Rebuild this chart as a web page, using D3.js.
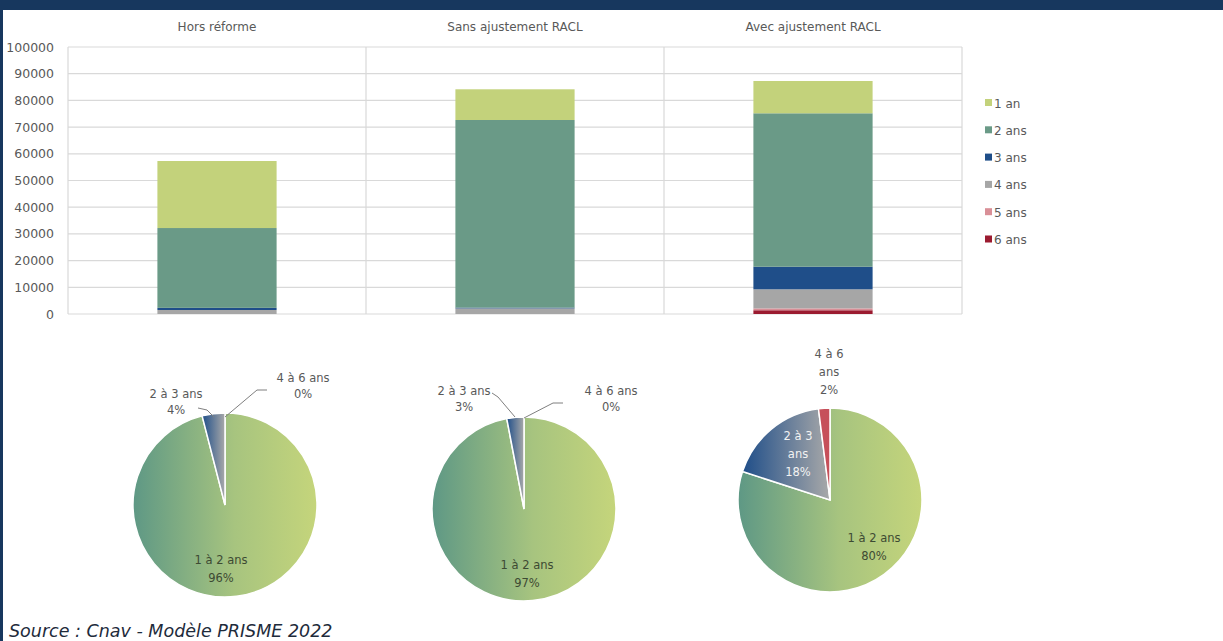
<!DOCTYPE html>
<html>
<head>
<meta charset="utf-8">
<script src="https://cdn.jsdelivr.net/npm/d3@7"></script>
<style>
  body { margin: 0; background: #fff; }
  text { font-family: "DejaVu Sans", sans-serif; }
</style>
</head>
<body>
<script>
// data
var scenarios = ["Hors réforme", "Sans ajustement RACL", "Avec ajustement RACL"]
var durations = ["1 an", "2 ans", "3 ans", "4 ans", "5 ans", "6 ans"]
var an1  = [25100, 11500, 12100]
var ans2 = [29900, 70260, 57470]
var ans3 = [800, 300, 8450]
var ans4 = [1500, 2100, 7150]
var ans5 = [0, 0, 700]
var ans6 = [0, 0, 1400]
var yTicks = [0, 10000, 20000, 30000, 40000, 50000, 60000, 70000, 80000, 90000, 100000]

var pieGroups = ["1 à 2 ans", "2 à 3 ans", "4 à 6 ans"]
var pieShares = [[96, 4, 0], [97, 3, 0], [80, 18, 2]]

var width = 1223
var height = 641

var colors = ["#c3d27b", "#6a9a87", "#1f4e89", "#a6a6a6", "#d98f97", "#9b1b30"]

var svg = d3.select("body")
    .append("svg")
        .attr("width", width)
        .attr("height", height)

// frame
svg.append("rect").attr("x", 0).attr("y", 0).attr("width", width).attr("height", 10).attr("fill", "#17375e")
svg.append("rect").attr("x", 0).attr("y", 0).attr("width", 3).attr("height", height).attr("fill", "#17375e")

var defs = svg.append("defs")
var g1 = defs.append("linearGradient").attr("id", "gGreen")
g1.append("stop").attr("offset", "0%").attr("stop-color", "#5e9885")
g1.append("stop").attr("offset", "55%").attr("stop-color", "#a7c47f")
g1.append("stop").attr("offset", "100%").attr("stop-color", "#c5d57b")
var g2 = defs.append("linearGradient").attr("id", "gBlue")
g2.append("stop").attr("offset", "0%").attr("stop-color", "#1f4e89")
g2.append("stop").attr("offset", "100%").attr("stop-color", "#a9a9a9")

// stacked bars
var rows = scenarios.map(function(s, i) {
    return {scen: s, "1 an": an1[i], "2 ans": ans2[i], "3 ans": ans3[i], "4 ans": ans4[i], "5 ans": ans5[i], "6 ans": ans6[i]}
})

var x = d3.scaleBand().domain(scenarios).range([68, 962])
var y = d3.scaleLinear().domain([0, 100000]).range([314, 47])
var color = d3.scaleOrdinal().domain(durations).range(colors)

// grid
svg.selectAll("hgrid")
    .data(yTicks)
    .enter()
    .append("line")
        .attr("x1", 68).attr("x2", 962)
        .attr("y1", function(d) { return y(d) }).attr("y2", function(d) { return y(d) })
        .attr("stroke", "#d9d9d9")
        .attr("stroke-width", 1.2)

svg.selectAll("vgrid")
    .data([68, 366, 664, 962])
    .enter()
    .append("line")
        .attr("x1", function(d) { return d }).attr("x2", function(d) { return d })
        .attr("y1", y(100000)).attr("y2", y(0))
        .attr("stroke", "#d9d9d9")
        .attr("stroke-width", 1.2)

var yAxis = svg.append("g")
    .attr("transform", "translate(56,0)")
    .call(d3.axisLeft(y).tickValues(yTicks).tickSize(0).tickPadding(2).tickFormat(d3.format("d")))
yAxis.select(".domain").remove()
yAxis.selectAll("text")
    .attr("font-family", "DejaVu Sans")
    .attr("font-size", "12.5px")
    .attr("fill", "#595959")

svg.selectAll("titles")
    .data(scenarios)
    .enter()
    .append("text")
        .attr("x", function(d) { return x(d) + x.bandwidth() / 2 })
        .attr("y", 31)
        .attr("text-anchor", "middle")
        .attr("font-size", "12px")
        .attr("fill", "#595959")
        .text(function(d) { return d })

var order = durations.slice().reverse()
var stacked = d3.stack().keys(order)(rows)
var barW = x.bandwidth() * 0.4

svg.selectAll("layers")
    .data(stacked)
    .enter()
    .append("g")
        .attr("fill", function(d) { return color(d.key) })
    .selectAll("rect")
    .data(function(d) { return d })
    .enter()
    .append("rect")
        .attr("x", function(d) { return x(d.data.scen) + (x.bandwidth() - barW) / 2 })
        .attr("width", barW)
        .attr("y", function(d) { return y(d[1]) })
        .attr("height", function(d) { return y(d[0]) - y(d[1]) })

// legend
var legend = svg.selectAll("legend")
    .data(durations)
    .enter()
    .append("g")
        .attr("transform", function(d, i) { return "translate(985," + (103 + i * 27.3) + ")" })
legend.append("rect")
    .attr("x", 0).attr("y", -4).attr("width", 7).attr("height", 7)
    .attr("fill", function(d) { return color(d) })
legend.append("text")
    .attr("x", 9).attr("y", 4.5)
    .attr("font-size", "12px")
    .attr("fill", "#595959")
    .text(function(d) { return d })

// pies
var pieCenters = [[225, 505], [524, 509], [830, 500]]
var pieR = 92
var pie = d3.pie().sort(null).value(function(d) { return d })
var arc = d3.arc().innerRadius(0).outerRadius(pieR)
var sliceFill = ["url(#gGreen)", "url(#gBlue)", "#c6505a"]

// label layout per pie: offset of first line, line height, lines, colour, leader points
var pieLabels = [
    [
        {dx: -4, dy: 59, lh: 18, lines: ["1 à 2 ans", "96%"], fill: "#3d4a33"},
        {dx: -49, dy: -107, lh: 16, lines: ["2 à 3 ans", "4%"], fill: "#595959", leader: [[-27, -97], [-18, -95], [-11, -88]]},
        {dx: 78, dy: -123, lh: 16, lines: ["4 à 6 ans", "0%"], fill: "#595959", leader: [[0, -88], [32, -115], [42, -115]]}
    ],
    [
        {dx: 3, dy: 60, lh: 18, lines: ["1 à 2 ans", "97%"], fill: "#3d4a33"},
        {dx: -60, dy: -114, lh: 16, lines: ["2 à 3 ans", "3%"], fill: "#595959", leader: [[-32, -116], [-26, -112], [-9, -92]]},
        {dx: 87, dy: -114, lh: 16, lines: ["4 à 6 ans", "0%"], fill: "#595959", leader: [[0, -91], [29, -106], [39, -106]]}
    ],
    [
        {dx: 44, dy: 42, lh: 18, lines: ["1 à 2 ans", "80%"], fill: "#3d4a33"},
        {dx: -32, dy: -60, lh: 18, lines: ["2 à 3", "ans", "18%"], fill: "#f2f2f2"},
        {dx: -1, dy: -142, lh: 18, lines: ["4 à 6", "ans", "2%"], fill: "#595959"}
    ]
]

pieShares.forEach(function(shares, p) {
    var g = svg.append("g")
        .attr("transform", "translate(" + pieCenters[p][0] + "," + pieCenters[p][1] + ")")
    g.selectAll("slices")
        .data(pie(shares))
        .enter()
        .append("path")
            .attr("d", arc)
            .attr("fill", function(d, i) { return sliceFill[i] })
            .attr("stroke", function(d) { return d.value > 0 ? "white" : "none" })
            .attr("stroke-width", 1.5)

    pieLabels[p].forEach(function(lab, i) {
        if (lab.leader) {
            g.append("polyline")
                .attr("points", lab.leader.join(" "))
                .attr("fill", "none")
                .attr("stroke", "#7f7f7f")
                .attr("stroke-width", 1)
        }
        g.append("text")
            .attr("text-anchor", "middle")
            .attr("font-size", "11.5px")
            .attr("fill", lab.fill)
            .selectAll("tspan")
            .data(lab.lines)
            .enter()
            .append("tspan")
                .attr("x", lab.dx)
                .attr("y", function(d, j) { return lab.dy + j * lab.lh })
                .text(function(d) { return d })
    })
})

svg.append("text")
    .attr("x", 9)
    .attr("y", 637)
    .attr("font-family", "Open Sans")
    .attr("font-style", "italic")
    .attr("font-size", "17.5px")
    .attr("fill", "#1e2b3b")
    .text("Source : Cnav - Modèle PRISME 2022")
</script>
</body>
</html>
